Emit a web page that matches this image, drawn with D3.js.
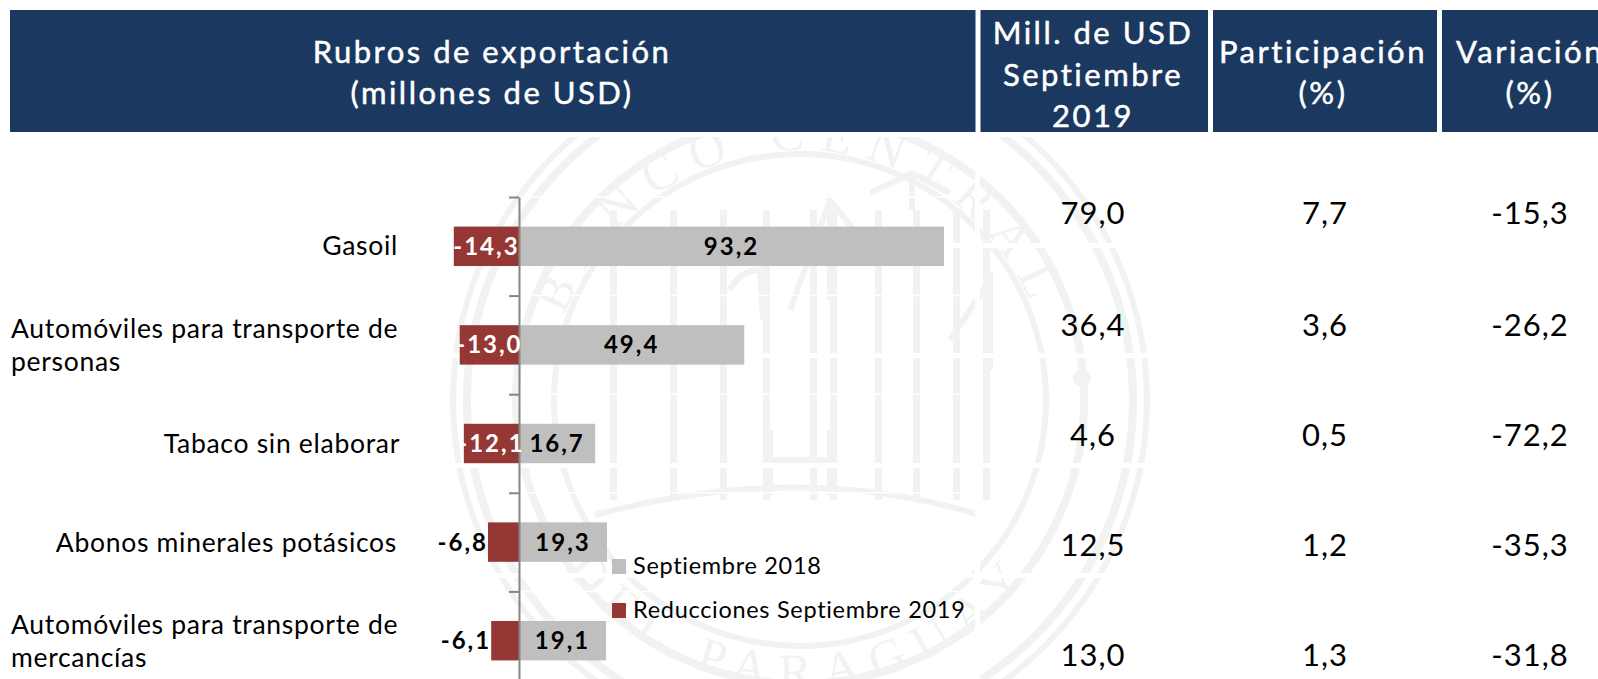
<!DOCTYPE html>
<html>
<head>
<meta charset="utf-8">
<script src="https://cdnjs.cloudflare.com/ajax/libs/d3/7.8.5/d3.min.js"></script>
<style>
  html, body { margin: 0; padding: 0; background: #fff; overflow: hidden; }
  svg { display: block; }
  text { font-family: Lato, "Open Sans", sans-serif; }
</style>
</head>
<body>
<svg id="chart" width="1598" height="679"></svg>
<script>
var categories = ["Gasoil", "Automóviles para transporte de personas", "Tabaco sin elaborar", "Abonos minerales potásicos", "Automóviles para transporte de mercancías"];
var sept2018 = [93.2, 49.4, 16.7, 19.3, 19.1];
var reducciones = [-14.3, -13.0, -12.1, -6.8, -6.1];
var millUsd = ["79,0", "36,4", "4,6", "12,5", "13,0"];
var participacion = ["7,7", "3,6", "0,5", "1,2", "1,3"];
var variacion = ["-15,3", "-26,2", "-72,2", "-35,3", "-31,8"];
var seriesNames = ["Septiembre 2018", "Reducciones Septiembre 2019"];

var NAVY = "#1a3860", GREY = "#bfbfbf", RED = "#953735", MARK = "#f0f3f2";

var svg = d3.select("#chart");
var comma = function (v) { return v.toFixed(1).replace(".", ","); };

drawWatermark();
drawHeader();
drawChart();
drawTable();

function drawWatermark() {
    var g = svg.append("g").attr("transform", "translate(800,400)");

    //Seal rings
    [[347, 6], [333, 8], [284, 8], [246, 6]].forEach(function (r) {
        g.append("circle").attr("r", r[0]).attr("fill", "none")
            .attr("stroke", MARK).attr("stroke-width", r[1]);
    });

    var defs = svg.append("defs");
    defs.append("path").attr("id", "sealTop").attr("d", "M-250,0 A250,250 0 0 1 250,0");
    defs.append("path").attr("id", "sealBottom").attr("d", "M-288,0 A288,288 0 0 0 288,0");

    [["sealTop", "BANCO CENTRAL", 15], ["sealBottom", "DEL PARAGUAY", 14]].forEach(function (t) {
        g.append("text")
            .attr("fill", MARK).attr("font-size", 50).attr("letter-spacing", t[2])
            .style("font-family", "'Liberation Serif', serif")
            .append("textPath")
            .attr("href", "#" + t[0])
            .attr("startOffset", "50%")
            .attr("text-anchor", "middle")
            .text(t[1]);
    });

    //Building, offsets from the seal centre
    var columns = [-190, -130, -80, -37, 10, 30, 75, 113, 153, 183];
    g.selectAll(".col").data(columns).enter().append("rect")
        .attr("x", function (d) { return d; })
        .attr("y", -190).attr("width", 7).attr("height", 290)
        .attr("fill", MARK);

    var roofs = [
        "M70,-207 L112,-227 L150,-207 M112,-227 L112,-190",
        "M-10,-90 L30,-200 L70,-150 M30,-200 L30,-100",
        "M-70,-110 Q-60,-130 -40,-130 L-37,-80",
        "M-205,115 Q0,60 180,115",
        "M150,-60 L190,-120 L190,-30",
        "M-30,60 L30,60 M-30,30 L-30,95 M30,30 L30,95"
    ];
    g.selectAll(".roof").data(roofs).enter().append("path")
        .attr("d", function (d) { return d; })
        .attr("fill", "none").attr("stroke", MARK).attr("stroke-width", 6);

    g.append("circle").attr("cx", 282).attr("cy", -22).attr("r", 9).attr("fill", MARK);

    //White table borders lying over the seal
    svg.append("rect").attr("x", 0).attr("y", 0).attr("width", 1598).attr("height", 137).attr("fill", "#fff");
    [243, 353, 463, 573].forEach(function (y) {
        svg.append("rect").attr("x", 440).attr("y", y).attr("width", 1158).attr("height", 5).attr("fill", "#fff");
    });
    svg.append("rect").attr("x", 975).attr("y", 132).attr("width", 5).attr("height", 547).attr("fill", "#fff");
}

function drawHeader() {
    var cells = [
        {x: 10, w: 965.5, cx: 492, lines: ["Rubros de exportación", "(millones de USD)"], base: [63, 104]},
        {x: 980.5, w: 227.5, cx: 1093, lines: ["Mill. de USD", "Septiembre", "2019"], base: [44, 86, 127]},
        {x: 1213, w: 224, cx: 1323, lines: ["Participación", "(%)"], base: [63, 104]},
        {x: 1442, w: 156, cx: 1530, lines: ["Variación", "(%)"], base: [63, 104]}
    ];

    cells.forEach(function (c) {
        svg.append("rect").attr("x", c.x).attr("y", 10).attr("width", c.w).attr("height", 122).attr("fill", NAVY);
        c.lines.forEach(function (line, i) {
            svg.append("text")
                .attr("x", c.cx).attr("y", c.base[i])
                .attr("text-anchor", "middle")
                .attr("fill", "#fff")
                .attr("stroke", "#fff").attr("stroke-width", 0.5)
                .attr("font-size", 31)
                .attr("letter-spacing", 2.5)
                .text(line);
        });
    });
}

function drawChart() {
    var x = d3.scaleLinear().domain([-15, 95]).range([450.6, 952.2]);
    var y = d3.scaleBand().domain(categories).range([197, 690]).paddingInner(0.6).paddingOuter(0.3);
    var yTicks = d3.scaleLinear().domain([0, 5]).range([197, 690]);

    //Thin white gridlines of the transparent chart area
    svg.append("g").selectAll("line").data(d3.range(5)).enter().append("line")
        .attr("x1", x(0)).attr("x2", 960)
        .attr("y1", function (d) { return yTicks(d); })
        .attr("y2", function (d) { return yTicks(d); })
        .attr("stroke", "#fff").attr("stroke-width", 1.5);

    var rows = categories.map(function (c, i) {
        return {name: c, pos: sept2018[i], neg: reducciones[i]};
    });

    svg.append("g").selectAll("rect").data(rows).enter().append("rect")
        .attr("x", x(0))
        .attr("y", function (d) { return y(d.name); })
        .attr("width", function (d) { return x(d.pos) - x(0); })
        .attr("height", y.bandwidth())
        .attr("fill", GREY);

    svg.append("g").selectAll("rect").data(rows).enter().append("rect")
        .attr("x", function (d) { return x(d.neg); })
        .attr("y", function (d) { return y(d.name); })
        .attr("width", function (d) { return x(0) - x(d.neg); })
        .attr("height", y.bandwidth())
        .attr("fill", RED);

    var axis = d3.axisLeft(yTicks).tickValues(d3.range(6)).tickSize(10).tickSizeOuter(0).tickFormat("");
    var axisG = svg.append("g").attr("transform", "translate(" + x(0) + ",0)").call(axis);
    axisG.selectAll("path, line").attr("stroke", "#868686").attr("stroke-width", 2);

    var labelBase = function (d) { return y(d.name) + y.bandwidth() / 2 + 8.5; };

    svg.append("g").selectAll("text").data(rows).enter().append("text")
        .attr("x", function (d) { return (x(0) + x(d.pos)) / 2; })
        .attr("y", labelBase)
        .attr("text-anchor", "middle")
        .attr("font-size", 24).attr("font-weight", 700).attr("letter-spacing", 2)
        .text(function (d) { return comma(d.pos); });

    //Large reductions carry the label inside the bar, small ones outside
    svg.append("g").selectAll("text").data(rows).enter().append("text")
        .attr("x", function (d) { return d.neg < -10 ? (x(0) + x(d.neg)) / 2 : x(d.neg); })
        .attr("y", labelBase)
        .attr("text-anchor", function (d) { return d.neg < -10 ? "middle" : "end"; })
        .attr("fill", function (d) { return d.neg < -10 ? "#fff" : "#000"; })
        .attr("font-size", 24).attr("font-weight", 700).attr("letter-spacing", 2)
        .text(function (d) { return comma(d.neg); });

    //Category labels, the long ones wrap and start at the left margin
    var catLines = [["Gasoil"], ["Automóviles para transporte de", "personas"], ["Tabaco sin elaborar"],
        ["Abonos minerales potásicos"], ["Automóviles para transporte de", "mercancías"]];
    var catBase = [[255], [338, 371], [453], [552], [634, 667]];
    var catRight = [398, 0, 400, 397, 0];

    catLines.forEach(function (lines, i) {
        lines.forEach(function (line, j) {
            svg.append("text")
                .attr("x", lines.length > 1 ? 11 : catRight[i])
                .attr("y", catBase[i][j])
                .attr("text-anchor", lines.length > 1 ? "start" : "end")
                .attr("font-size", 26.5)
                .attr("letter-spacing", 0.7)
                .text(line);
        });
    });

    var legend = svg.append("g").selectAll("g").data(seriesNames).enter().append("g")
        .attr("transform", function (d, i) { return "translate(612," + (559 + i * 44) + ")"; });
    legend.append("rect").attr("width", 14).attr("height", 15)
        .attr("fill", function (d, i) { return i ? RED : GREY; });
    legend.append("text").attr("x", 21).attr("y", 15)
        .attr("font-size", 23.5).attr("letter-spacing", 0.7)
        .text(function (d) { return d; });
}

function drawTable() {
    var rowBase = [224, 336, 446, 556, 666];
    var cols = [[1093, millUsd], [1325, participacion], [1530, variacion]];
    cols.forEach(function (c) {
        svg.append("g").selectAll("text").data(c[1]).enter().append("text")
            .attr("x", c[0])
            .attr("y", function (d, i) { return rowBase[i]; })
            .attr("text-anchor", "middle")
            .attr("font-size", 31)
            .attr("letter-spacing", 1)
            .text(function (d) { return d; });
    });
}
</script>
</body>
</html>
